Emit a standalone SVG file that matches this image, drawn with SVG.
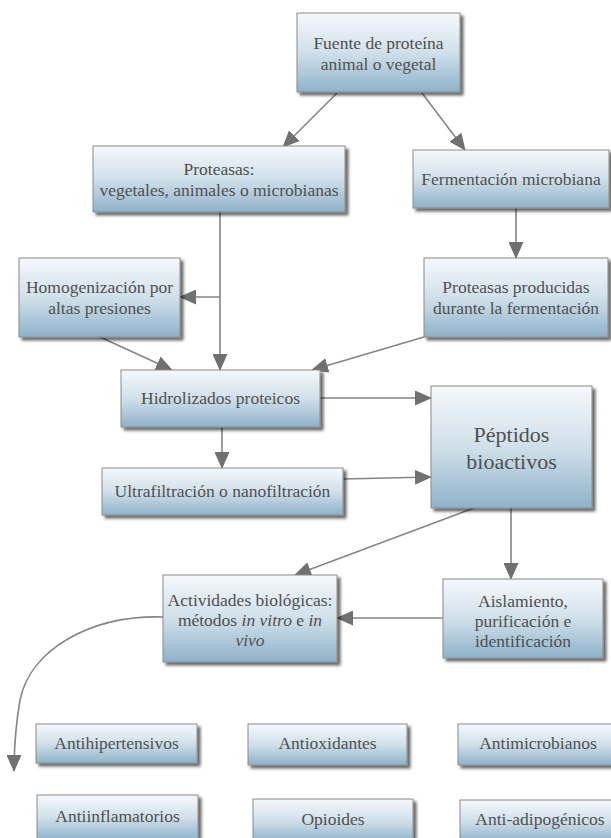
<svg xmlns="http://www.w3.org/2000/svg" width="611" height="838" viewBox="0 0 611 838">
<defs>
<linearGradient id="g" x1="0" y1="0" x2="0" y2="1">
<stop offset="0" stop-color="#f6f8fb"/>
<stop offset="0.5" stop-color="#d0e0ea"/>
<stop offset="1" stop-color="#8fb2c9"/>
</linearGradient>
<filter id="sh" x="-10%" y="-10%" width="130%" height="140%">
<feDropShadow dx="3" dy="3" stdDeviation="1.8" flood-color="#000" flood-opacity="0.6"/>
</filter>
<marker id="ah" markerUnits="userSpaceOnUse" markerWidth="17" markerHeight="15" refX="16" refY="7.5" orient="auto">
<path d="M0,0 L17,7.5 L0,15 Z" fill="#707070"/>
</marker>
<style>
.b{fill:url(#g);stroke:#8a8a8a;stroke-width:1;filter:url(#sh)}
.t{font-family:"Liberation Serif","Times New Roman",serif;font-size:17.5px;fill:#505050;text-anchor:middle}
.big{font-size:22px}
.c{fill:none;stroke:#858585;stroke-width:1.6}
.a{marker-end:url(#ah)}
</style>
</defs>
<rect width="611" height="838" fill="#fff"/>
<g id="connectors">
<line class="c a" x1="337" y1="93" x2="283" y2="147"/>
<line class="c a" x1="422" y1="93" x2="465" y2="150"/>
<line class="c a" x1="516" y1="208" x2="516" y2="258"/>
<line class="c a" x1="220" y1="212" x2="220" y2="370"/>
<line class="c a" x1="220" y1="297" x2="180" y2="297"/>
<line class="c a" x1="100" y1="337" x2="172" y2="370"/>
<line class="c a" x1="424" y1="337" x2="312" y2="370"/>
<line class="c a" x1="320" y1="398" x2="431" y2="398"/>
<line class="c a" x1="222" y1="427" x2="222" y2="468"/>
<line class="c a" x1="343" y1="479" x2="431" y2="477"/>
<line class="c a" x1="474" y1="508" x2="295" y2="575"/>
<line class="c a" x1="511" y1="508" x2="511" y2="579"/>
<line class="c a" x1="443" y1="618" x2="337" y2="618"/>
<path class="c a" d="M163,617 C90,615 30,650 20,700 C15,730 14,750 14,771"/>
</g>
<g id="fuente"><rect class="b" x="297" y="13" width="163" height="79"/><text class="t" x="378.5" y="49">Fuente de proteína</text><text class="t" x="378.5" y="70">animal o vegetal</text></g>
<g id="proteasas"><rect class="b" x="93" y="146" width="252" height="66"/><text class="t" x="219" y="175">Proteasas:</text><text class="t" x="219" y="196">vegetales, animales o microbianas</text></g>
<g id="fermentacion"><rect class="b" x="413" y="150" width="196" height="58"/><text class="t" x="511" y="185">Fermentación microbiana</text></g>
<g id="proteasas-producidas"><rect class="b" x="424" y="258" width="184" height="79"/><text class="t" x="516" y="293">Proteasas producidas</text><text class="t" x="516" y="314">durante la fermentación</text></g>
<g id="homogenizacion"><rect class="b" x="19" y="258" width="161" height="79"/><text class="t" x="99.5" y="293">Homogenización por</text><text class="t" x="99.5" y="314">altas presiones</text></g>
<g id="hidrolizados"><rect class="b" x="121" y="370" width="199" height="57"/><text class="t" x="220.5" y="404">Hidrolizados proteicos</text></g>
<g id="ultrafiltracion"><rect class="b" x="102" y="468" width="241" height="47"/><text class="t" x="222.5" y="497">Ultrafiltración o nanofiltración</text></g>
<g id="peptidos"><rect class="b" x="431" y="386" width="161" height="122"/><text class="t big" x="511.5" y="442">Péptidos</text><text class="t big" x="511.5" y="469">bioactivos</text></g>
<g id="actividades"><rect class="b" x="163" y="575" width="174" height="87"/><text class="t" x="250" y="606">Actividades biológicas:</text><text class="t" x="250" y="626">métodos <tspan font-style="italic">in vitro</tspan> e <tspan font-style="italic">in</tspan></text><text class="t" x="250" y="646" font-style="italic">vivo</text></g>
<g id="aislamiento"><rect class="b" x="443" y="579" width="160" height="79"/><text class="t" x="523" y="607">Aislamiento,</text><text class="t" x="523" y="627">purificación e</text><text class="t" x="523" y="647">identificación</text></g>
<g id="antihipertensivos"><rect class="b" x="36" y="724" width="161" height="39"/><text class="t" x="116.5" y="749">Antihipertensivos</text></g>
<g id="antioxidantes"><rect class="b" x="248" y="724" width="159" height="41"/><text class="t" x="327.5" y="749">Antioxidantes</text></g>
<g id="antimicrobianos"><rect class="b" x="458" y="724" width="160" height="41"/><text class="t" x="538" y="749">Antimicrobianos</text></g>
<g id="antiinflamatorios"><rect class="b" x="37" y="795" width="161" height="45"/><text class="t" x="117.5" y="822">Antiinflamatorios</text></g>
<g id="opioides"><rect class="b" x="253" y="799" width="160" height="43"/><text class="t" x="333" y="825">Opioides</text></g>
<g id="antiadipogenicos"><rect class="b" x="460" y="800" width="160" height="42"/><text class="t" x="540" y="825">Anti-adipogénicos</text></g>
</svg>
